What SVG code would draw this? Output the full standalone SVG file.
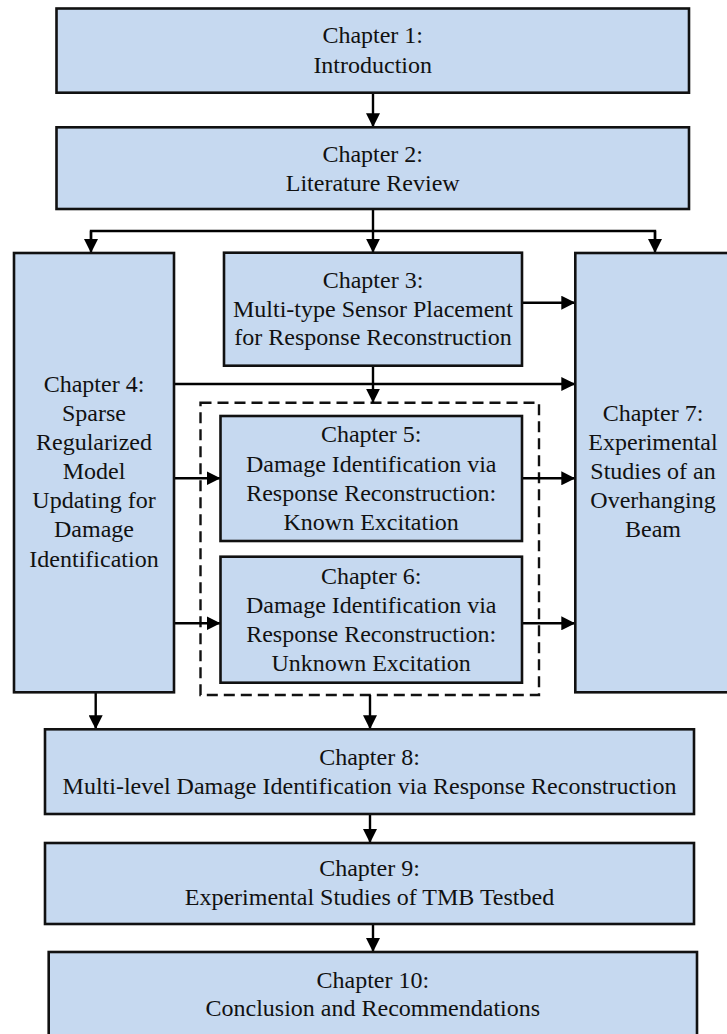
<svg xmlns="http://www.w3.org/2000/svg" width="727" height="1034" viewBox="0 0 727 1034">
<defs>
<style>
.box{fill:#C6D9F0;stroke:#111;stroke-width:2.6}
.dash{fill:none;stroke:#111;stroke-width:2.4;stroke-dasharray:11 6}
text{font-family:'Liberation Serif','Times New Roman',Times,serif;font-size:24px;fill:#111;text-anchor:middle}
.c{fill:none;stroke:#000;stroke-width:2.4;marker-end:url(#ah)}
.n{fill:none;stroke:#000;stroke-width:2.4}
</style>
<marker id="ah" viewBox="0 0 14 14" refX="14" refY="7" markerWidth="14" markerHeight="14" markerUnits="userSpaceOnUse" orient="auto">
<path d="M0,0 L14,7 L0,14 z" fill="#000"/>
</marker>
</defs>
<rect width="727" height="1034" fill="#fff"/>

<g id="group-ch5-ch6">
<rect class="dash" x="200.5" y="402.7" width="338.5" height="292.3"/>
</g>

<g id="connectors">
<line class="c" x1="373" y1="92.7" x2="373" y2="127.3"/>
<line class="c" x1="373" y1="209" x2="373" y2="252.7"/>
<polyline class="n" points="91,240 91,231 655,231 655,240"/>
<line class="c" x1="91" y1="231" x2="91" y2="253"/>
<line class="c" x1="655" y1="231" x2="655" y2="253"/>
<line class="c" x1="522" y1="302.7" x2="575.3" y2="302.7"/>
<line class="c" x1="174" y1="384" x2="575.3" y2="384"/>
<line class="c" x1="373" y1="365.7" x2="373" y2="402.7"/>
<line class="c" x1="174" y1="478.3" x2="220.5" y2="478.3"/>
<line class="c" x1="522" y1="478.3" x2="575.3" y2="478.3"/>
<line class="c" x1="174" y1="623.3" x2="220.5" y2="623.3"/>
<line class="c" x1="522" y1="623.3" x2="575.3" y2="623.3"/>
<line class="c" x1="95.7" y1="692.3" x2="95.7" y2="729.3"/>
<line class="c" x1="370" y1="695" x2="370" y2="729.3"/>
<line class="c" x1="370" y1="814" x2="370" y2="843"/>
<line class="c" x1="373" y1="924" x2="373" y2="952"/>
</g>

<g font-family="Liberation Serif, Times New Roman, serif" font-size="24">
<g id="ch1">
<rect class="box" x="56.5" y="8.5" width="632.5" height="84.2"/>
<text x="372.7" y="42.5">Chapter 1:</text>
<text x="372.7" y="72.5">Introduction</text>
</g>

<g id="ch2">
<rect class="box" x="56.5" y="127.3" width="632.5" height="81.7"/>
<text x="372.7" y="161.5">Chapter 2:</text>
<text x="372.7" y="190.5">Literature Review</text>
</g>

<g id="ch3">
<rect class="box" x="224" y="252.7" width="298" height="113"/>
<text x="373" y="288">Chapter 3:</text>
<text x="373" y="316.7">Multi-type Sensor Placement</text>
<text x="373" y="345">for Response Reconstruction</text>
</g>

<g id="ch4">
<rect class="box" x="14" y="253" width="160" height="439.3"/>
<text x="94" y="391.7">Chapter 4:</text>
<text x="94" y="421">Sparse</text>
<text x="94" y="450">Regularized</text>
<text x="94" y="479.3">Model</text>
<text x="94" y="508.3">Updating for</text>
<text x="94" y="537">Damage</text>
<text x="94" y="566.7">Identification</text>
</g>

<g id="ch7">
<rect class="box" x="575.3" y="253" width="156" height="439.3"/>
<text x="653" y="421">Chapter 7:</text>
<text x="653" y="450">Experimental</text>
<text x="653" y="479.3">Studies of an</text>
<text x="653" y="508.3">Overhanging</text>
<text x="653" y="537">Beam</text>
</g>

<g id="ch5">
<rect class="box" x="220.5" y="416" width="301.5" height="125"/>
<text x="371.2" y="442">Chapter 5:</text>
<text x="371.2" y="471.5">Damage Identification via</text>
<text x="371.2" y="500.5">Response Reconstruction:</text>
<text x="371.2" y="530">Known Excitation</text>
</g>

<g id="ch6">
<rect class="box" x="220.5" y="556.7" width="301.5" height="126"/>
<text x="371.2" y="583.5">Chapter 6:</text>
<text x="371.2" y="612.5">Damage Identification via</text>
<text x="371.2" y="641.5">Response Reconstruction:</text>
<text x="371.2" y="670.7">Unknown Excitation</text>
</g>

<g id="ch8">
<rect class="box" x="45" y="729.3" width="649" height="84.7"/>
<text x="369.5" y="765">Chapter 8:</text>
<text x="369.5" y="794">Multi-level Damage Identification via Response Reconstruction</text>
</g>

<g id="ch9">
<rect class="box" x="45" y="843" width="649" height="81"/>
<text x="369.5" y="876">Chapter 9:</text>
<text x="369.5" y="905">Experimental Studies of TMB Testbed</text>
</g>

<g id="ch10">
<rect class="box" x="48.7" y="952" width="648.3" height="90"/>
<text x="372.8" y="987.5">Chapter 10:</text>
<text x="372.8" y="1016">Conclusion and Recommendations</text>
</g>
</g>
</svg>
